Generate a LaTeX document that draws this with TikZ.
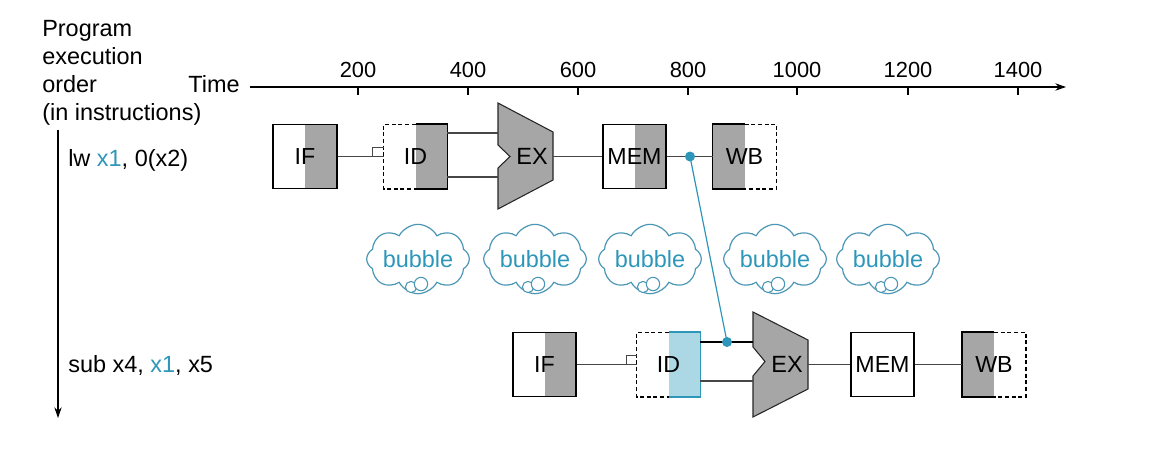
\documentclass[tikz,border=0pt]{standalone}
\usepackage{fontspec}
\setmainfont{Liberation Sans}
\usetikzlibrary{shapes.symbols,arrows.meta}
\definecolor{gfill}{RGB}{166,166,166}
\definecolor{accent}{RGB}{45,150,185}
\definecolor{cloudc}{RGB}{75,150,180}
\definecolor{ltblue}{RGB}{172,215,229}
\definecolor{wire}{RGB}{70,70,70}
\begin{document}
\begin{tikzpicture}[x=0.75pt,y=-0.75pt,
  lbl/.style={font=\fontsize{17.6}{20}\selectfont, inner sep=0pt},
  numlbl/.style={font=\fontsize{16.4}{19}\selectfont, inner sep=0pt, anchor=base},
  stagebox/.style={minimum width=47.5pt, minimum height=48pt, inner sep=0pt, font=\fontsize{17.4}{20}\selectfont},
  grayright/.style={path picture={\fill[gfill] (path picture bounding box.north) rectangle (path picture bounding box.south east);}},
  grayleft/.style={path picture={\fill[gfill] (path picture bounding box.north west) rectangle (path picture bounding box.south);}},
  blueright/.style={path picture={\fill[ltblue] (path picture bounding box.north) rectangle (path picture bounding box.south east);}},
  solidbox/.style={draw=black, line width=1.3pt},
  solidline/.style={black, line width=1.3pt},
  dashline/.style={black, line width=1.1pt, dash pattern=on 3pt off 2pt},
  wireline/.style={draw=wire, line width=0.8pt},
  alu/.style={fill=gfill, draw=black!85, line width=0.8pt},
  dot/.style={circle, fill=accent, inner sep=0pt, minimum size=7.5pt},
  bubblecloud/.style={cloud, cloud puffs=8, cloud puff arc=125, cloud ignores aspect, draw=cloudc, line width=0.9pt, minimum width=77pt, minimum height=52pt, text=accent, font=\fontsize{17.6}{20}\selectfont, inner sep=0pt},
  smallbub/.style={draw=cloudc, fill=white, line width=0.8pt}
]
\useasboundingbox (0,0) rectangle (1156,468);

% labels
\node[lbl, anchor=base west] (l1) at (42,36) {Program};
\node[lbl, anchor=base west] (l2) at (42,64) {execution};
\node[lbl, anchor=base west] (l3) at (42,92) {order};
\node[lbl, anchor=base west] (l4) at (42,120) {(in instructions)};
\node[lbl, anchor=base east] (time) at (240,92) {Time};

% time axis
\coordinate (ax0) at (250,87);
\coordinate (ax1) at (1066,87);
\draw[line width=0.8pt, -{Stealth[length=8pt,width=5.5pt]}] (ax0) -- (ax1);
\foreach \x/\v in {358/200,468/400,578/600,688/800,797/1000,908/1200,1018/1400}{
  \draw[line width=0.8pt] (\x,87) -- (\x,95);
  \node[numlbl] (n\v) at (\x,77) {\v};
}

% program order arrow
\coordinate (po0) at (58,130);
\coordinate (po1) at (58,418);
\draw[line width=0.8pt, -{Stealth[length=8pt,width=5.5pt]}] (po0) -- (po1);

\node[lbl, anchor=base west] (ins1) at (68,166) {lw \textcolor{accent}{x1}, 0(x2)};
\node[lbl, anchor=base west] (ins2) at (68,372) {sub x4, \textcolor{accent}{x1}, x5};

% ---------- row 1 ----------
\node[stagebox, grayright, solidbox] (if1) at (305,156.5) {IF};
\node[stagebox, grayright] (id1) at (415.5,156.5) {ID};
\draw[dashline] (id1.north) -- (id1.north west) -- (id1.south west) -- (id1.south);
\draw[solidline] (id1.north) -- (id1.north east) -- (id1.south east) -- (id1.south);
\draw[alu] (498,103) -- (553,132) -- (553,180) -- (498,209) -- (498,168) -- (510,156.5) -- (498,145) -- cycle;
\node[lbl] (ex1) at (532,156.5) {EX};
\coordinate (ex1a) at (498,133);
\coordinate (ex1b) at (498,177);
\coordinate (ex1o) at (553,156.5);
\node[stagebox, grayright, solidbox] (mem1) at (634.5,156.5) {MEM};
\node[stagebox, grayleft] (wb1) at (744.5,156.5) {WB};
\draw[solidline] (wb1.north) -- (wb1.north west) -- (wb1.south west) -- (wb1.south);
\draw[dashline] (wb1.north) -- (wb1.north east) -- (wb1.south east) -- (wb1.south);

\draw[wireline] (if1.east) -- (id1.west);
\draw[wireline] ([shift={(-11,0)}]id1.west) -- ++(0,-9) -- ++(11,0);
\draw[wireline] (id1.east |- ex1a) -- (ex1a);
\draw[wireline] (id1.east |- ex1b) -- (ex1b);
\draw[wireline] (ex1o) -- (mem1.west);
\draw[wireline] (mem1.east) -- (wb1.west);

% ---------- bubbles ----------
\foreach \i/\x in {1/418,2/535,3/650,4/775,5/888}{
  \node[bubblecloud] (b\i) at (\x,259) {bubble};
  \draw[smallbub] ([shift={(-7,28)}]b\i.center) circle (4.2pt);
  \draw[smallbub] ([shift={(3,25)}]b\i.center) circle (5pt);
}

% ---------- row 2 ----------
\node[stagebox, grayright, solidbox] (if2) at (544.5,364.5) {IF};
\node[stagebox, blueright] (id2) at (668.5,364.5) {ID};
\draw[dashline] (id2.north) -- (id2.north west) -- (id2.south west) -- (id2.south);
\draw[accent, line width=1.3pt] (id2.north) -- (id2.north east) -- (id2.south east) -- (id2.south);
\draw[alu] (753,312) -- (808,340) -- (808,389) -- (753,417) -- (753,376) -- (765,361.5) -- (753,347) -- cycle;
\node[lbl] (ex2) at (787,364.5) {EX};
\coordinate (ex2a) at (753,342);
\coordinate (ex2b) at (753,381);
\coordinate (ex2o) at (808,364.5);
\node[stagebox, solidbox] (mem2) at (882.5,364.5) {MEM};
\node[stagebox, grayleft] (wb2) at (994,364.5) {WB};
\draw[solidline] (wb2.north) -- (wb2.north west) -- (wb2.south west) -- (wb2.south);
\draw[dashline] (wb2.north) -- (wb2.north east) -- (wb2.south east) -- (wb2.south);

\draw[wireline] (if2.east) -- (id2.west);
\draw[wireline] ([shift={(-10,0)}]id2.west) -- ++(0,-9) -- ++(10,0);
\draw[solidline] (id2.east |- ex2a) -- (ex2a);
\draw[wireline] (id2.east |- ex2b) -- (ex2b);
\draw[wireline] (ex2o) -- (mem2.west);
\draw[wireline] (mem2.east) -- (wb2.west);

% forwarding
\coordinate (f1) at (690,156.5);
\coordinate (f2) at (727,342);
\draw[accent, line width=0.9pt] (f1) -- (f2);
\node[dot] (d1) at (f1) {};
\node[dot] (d2) at (f2) {};
\end{tikzpicture}
\end{document}
